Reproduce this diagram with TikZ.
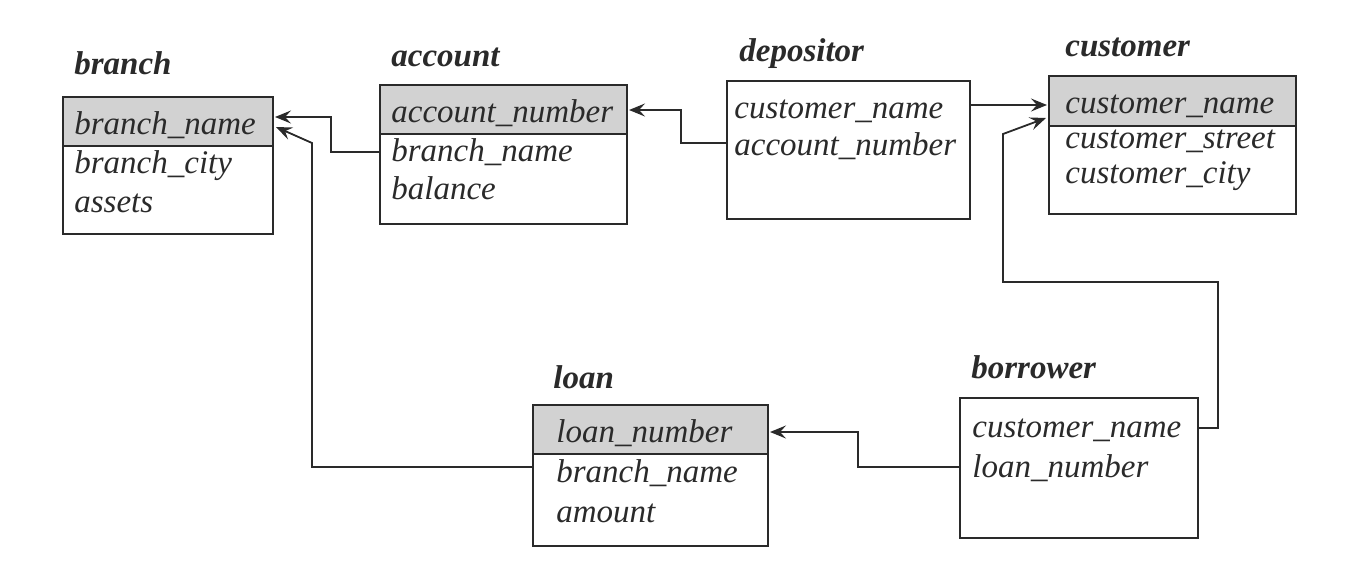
\documentclass[tikz,border=0pt]{standalone}
\usepackage{fontspec}
\setmainfont{Liberation Serif}
\usetikzlibrary{arrows.meta,calc}
\definecolor{ink}{HTML}{2A2A2A}
\definecolor{hdrgray}{HTML}{D2D2D2}
\begin{document}
\begin{tikzpicture}[x=0.5pt,y=-0.5pt,
  box/.style={draw=ink,line width=1pt,inner sep=0pt,anchor=north west},
  hbox/.style={draw=ink,fill=hdrgray,line width=1pt,inner sep=0pt,anchor=north west},
  row/.style={anchor=base west,inner sep=0pt,text=ink,font=\fontsize{16.5}{18}\selectfont\itshape},
  ttl/.style={anchor=base west,inner sep=0pt,text=ink,font=\fontsize{16.5}{18}\selectfont\bfseries\itshape},
  conn/.style={draw=ink,line width=0.9pt,-{Stealth[length=8pt,width=6.5pt,inset=3pt]}},
  link/.style={draw=ink,line width=0.9pt}]

\useasboundingbox (0,0) rectangle (1346,574);

% branch
\node[ttl] (brt) at (74,74) {branch};
\node[hbox,minimum width=105pt,minimum height=24.5pt] (brh) at (62,96) {};
\node[box,minimum width=105pt,minimum height=68.5pt] (br) at (62,96) {};
\node[row] (br1) at (74,134) {branch\_name};
\node[row] (br2) at (74,173) {branch\_city};
\node[row] (br3) at (74,212) {assets};

% account
\node[ttl] (acct) at (391,66) {account};
\node[hbox,minimum width=123.5pt,minimum height=24.5pt] (acch) at (379,84) {};
\node[box,minimum width=123.5pt,minimum height=69.5pt] (acc) at (379,84) {};
\node[row] (acc1) at (391,122) {account\_number};
\node[row] (acc2) at (391,161) {branch\_name};
\node[row] (acc3) at (391,199) {balance};

% depositor
\node[ttl] (dept) at (739,61) {depositor};
\node[box,minimum width=121.5pt,minimum height=69pt] (dep) at (726,80) {};
\node[row] (dep1) at (734,118) {customer\_name};
\node[row] (dep2) at (734,155) {account\_number};

% customer
\node[ttl] (cust) at (1065,56) {customer};
\node[hbox,minimum width=123.5pt,minimum height=25pt] (cush) at (1048,75) {};
\node[box,minimum width=123.5pt,minimum height=69pt] (cus) at (1048,75) {};
\node[row] (cus1) at (1065,113) {customer\_name};
\node[row] (cus2) at (1065,148) {customer\_street};
\node[row] (cus3) at (1065,183) {customer\_city};

% loan
\node[ttl] (loant) at (553,388) {loan};
\node[hbox,minimum width=117.5pt,minimum height=24.5pt] (loanh) at (532,404) {};
\node[box,minimum width=117.5pt,minimum height=70.5pt] (loan) at (532,404) {};
\node[row] (loan1) at (556,442) {loan\_number};
\node[row] (loan2) at (556,482) {branch\_name};
\node[row] (loan3) at (556,522) {amount};

% borrower
\node[ttl] (bort) at (971,378) {borrower};
\node[box,minimum width=119pt,minimum height=70pt] (bor) at (959,397) {};
\node[row] (bor1) at (972,437) {customer\_name};
\node[row] (bor2) at (972,477) {loan\_number};

% connectors
\draw[conn] ($(acc.north west)+(0,68)$) -| ($(br.north east)+(57,21)$) -- ($(br.north east)+(1,21)$);
\draw[conn] ($(loan.north west)+(0,63)$) -| ($(br.north east)+(38,47)$) -- ($(br.north east)+(2,31)$);
\draw[conn] ($(dep.north west)+(0,63)$) -| ($(acc.north east)+(53,26)$) -- ($(acc.north east)+(1,26)$);
\draw[conn] ($(dep.north east)+(0,25)$) -- ($(cus.north west)+(-1,30)$);
\draw[conn] ($(bor.north east)+(0,31)$) -- ++(19,0) |- ($(cus.south west)+(-45,67)$) -- ++(0,-148) -- ($(cus.north west)+(-2,43)$);
\draw[conn] ($(bor.north west)+(0,70)$) -| ($(loan.north east)+(89,28)$) -- ($(loan.north east)+(1,28)$);
\end{tikzpicture}
\end{document}
